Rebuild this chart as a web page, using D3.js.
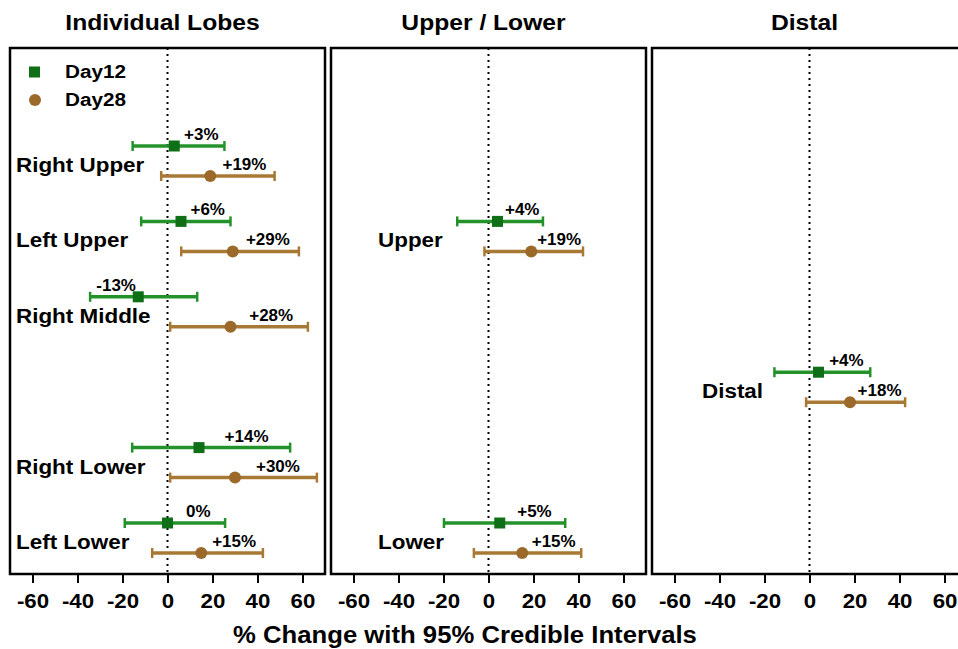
<!DOCTYPE html>
<html>
<head>
<meta charset="utf-8">
<script src="https://cdn.jsdelivr.net/npm/d3@7"></script>
<style>
  body { margin: 0; background: #fff; }
  svg { display: block; font-family: "Liberation Sans", Arial, sans-serif; font-weight: bold; }
</style>
</head>
<body>
<div id="chart"></div>
<script>
// ---- data ----
const panels = ['Individual Lobes', 'Upper / Lower', 'Distal'];
const seriesNames = ['Day12', 'Day28'];
const rowLabels = ['Right Upper', 'Left Upper', 'Right Middle', 'Right Lower', 'Left Lower', 'Upper', 'Lower', 'Distal'];
const rowPanel = [0, 0, 0, 0, 0, 1, 1, 2];
const rowSlot = [0, 1, 2, 4, 5, 1, 5, 3];   // shared vertical slot (6 slots)
const day12Est = [3, 6, -13, 14, 0, 4, 5, 4];
const day12Lo = [-15.5, -11.7, -34.4, -15.7, -19, -13.9, -19.8, -15.6];
const day12Hi = [25.3, 28, 13.2, 54.5, 25.6, 24.2, 34.1, 27];
const day28Est = [19, 29, 28, 30, 15, 19, 15, 18];
const day28Lo = [-2.8, 6.1, 1.2, 1.2, -6.8, -1.8, -6.5, -1.5];
const day28Hi = [47.6, 58.4, 62.4, 66.4, 42.4, 42, 41.2, 42.5];
const xTicks = [-60, -40, -20, 0, 20, 40, 60];
const xDomain = [-70, 70];
const slots = [0, 1, 2, 3, 4, 5];
const axisTitle = '% Change with 95% Credible Intervals';

// ---- layout / style ----
const W = 958, H = 649;
const boxTop = 48, boxBottom = 574;
const colors = {
  Day12: { line: '#24922b', mark: '#0f6f16' },
  Day28: { line: '#a77935', mark: '#9b6a2b' }
};
const seriesOffset = { Day12: -15, Day28: 15 };
const labelInset = [6, 47, 50];

const svg = d3.select('#chart').append('svg')
    .attr('width', W)
    .attr('height', H);

const panelScale = d3.scaleBand()
    .domain(panels)
    .range([10, 967])
    .paddingInner(0.0187)
    .paddingOuter(0);

const yGroup = d3.scalePoint()
    .domain(slots)
    .range([161, 538]);

const rows = rowLabels.map((label, i) => ({
  label,
  panel: rowPanel[i],
  slot: rowSlot[i],
  series: [
    { name: 'Day12', est: day12Est[i], lo: day12Lo[i], hi: day12Hi[i] },
    { name: 'Day28', est: day28Est[i], lo: day28Lo[i], hi: day28Hi[i] }
  ]
}));

const fmtPct = v => (v > 0 ? '+' : '') + v + '%';

panels.forEach((title, p) => {
  const left = panelScale(title);
  const bw = panelScale.bandwidth();
  const x = d3.scaleLinear().domain(xDomain).range([left, left + bw]);
  const g = svg.append('g').attr('class', 'panel');

  // panel title
  g.append('text')
      .attr('x', left + bw / 2 - 5)
      .attr('y', 30)
      .attr('text-anchor', 'middle')
      .attr('data-stretch', 1.12)
      .style('font-size', '22px')
      .text(title);

  // zero reference line
  g.append('line')
      .attr('x1', x(0)).attr('x2', x(0))
      .attr('y1', boxTop).attr('y2', boxBottom)
      .attr('stroke', '#000')
      .attr('stroke-width', 2)
      .attr('stroke-dasharray', '2,4');

  // bottom axis (plain hyphen for negatives, as in the source)
  const axis = g.append('g')
      .attr('transform', `translate(0,${boxBottom})`)
      .call(d3.axisBottom(x).tickValues(xTicks).tickSize(9).tickPadding(10)
        .tickFormat(d => String(d)));
  axis.select('.domain').remove();
  axis.selectAll('line').attr('stroke', '#000').attr('stroke-width', 2);
  axis.selectAll('text')
      .attr('fill', '#000')
      .attr('data-stretch', 1.06)
      .style('font-size', '21px')
      .style('font-family', '"Liberation Sans", Arial, sans-serif')
      .style('font-weight', 'bold');

  // rows
  const panelRows = rows.filter(r => r.panel === p);
  panelRows.forEach(r => {
    g.append('text')
        .attr('x', left + labelInset[p])
        .attr('y', yGroup(r.slot) + 11)
        .style('font-size', '19.5px')
        .text(r.label);

    r.series.forEach(s => {
      const y = yGroup(r.slot) + seriesOffset[s.name];
      const c = colors[s.name];
      g.append('line')
          .attr('x1', x(s.lo)).attr('x2', x(s.hi))
          .attr('y1', y).attr('y2', y)
          .attr('stroke', c.line).attr('stroke-width', 3.5);
      [s.lo, s.hi].forEach(v => {
        g.append('line')
            .attr('x1', x(v)).attr('x2', x(v))
            .attr('y1', y - 5).attr('y2', y + 5)
            .attr('stroke', c.line).attr('stroke-width', 2.5);
      });
      if (s.name === 'Day12') {
        g.append('rect')
            .attr('x', x(s.est) - 5.5).attr('y', y - 5.5)
            .attr('width', 11).attr('height', 11)
            .attr('fill', c.mark);
      } else {
        g.append('circle')
            .attr('cx', x(s.est)).attr('cy', y)
            .attr('r', 6)
            .attr('fill', c.mark);
      }
      const far = s.est < 0 ? s.lo : s.hi;
      g.append('text')
          .attr('x', (x(s.est) + x(far)) / 2 + 2)
          .attr('y', y - 6)
          .attr('text-anchor', 'middle')
          .attr('data-stretch', 1.06)
          .style('font-size', '16px')
          .text(fmtPct(s.est));
    });
  });

  // panel frame
  g.append('rect')
      .attr('x', left).attr('y', boxTop)
      .attr('width', bw).attr('height', boxBottom - boxTop)
      .attr('fill', 'none')
      .attr('stroke', '#000')
      .attr('stroke-width', 2.5);
});

// legend
const legend = svg.append('g').attr('class', 'legend');
seriesNames.forEach((name, i) => {
  const ly = 72 + i * 28;
  if (name === 'Day12') {
    legend.append('rect')
        .attr('x', 29).attr('y', ly - 5.5)
        .attr('width', 11).attr('height', 11)
        .attr('fill', colors[name].mark);
  } else {
    legend.append('circle')
        .attr('cx', 35).attr('cy', ly)
        .attr('r', 6)
        .attr('fill', colors[name].mark);
  }
  legend.append('text')
      .attr('x', 65)
      .attr('y', ly + 6)
      .style('font-size', '18px')
      .text(name);
});

// x axis title
svg.append('text')
    .attr('x', 465)
    .attr('y', 643)
    .attr('text-anchor', 'middle')
    .attr('data-stretch', 1.07)
    .style('font-size', '24px')
    .text(axisTitle);

// widen text a little to match the source's proportions
svg.selectAll('text').each(function() {
  const k = +(this.getAttribute('data-stretch') || 1.15);
  const w = this.getComputedTextLength();
  this.setAttribute('textLength', w * k);
  this.setAttribute('lengthAdjust', 'spacingAndGlyphs');
});
</script>
</body>
</html>
